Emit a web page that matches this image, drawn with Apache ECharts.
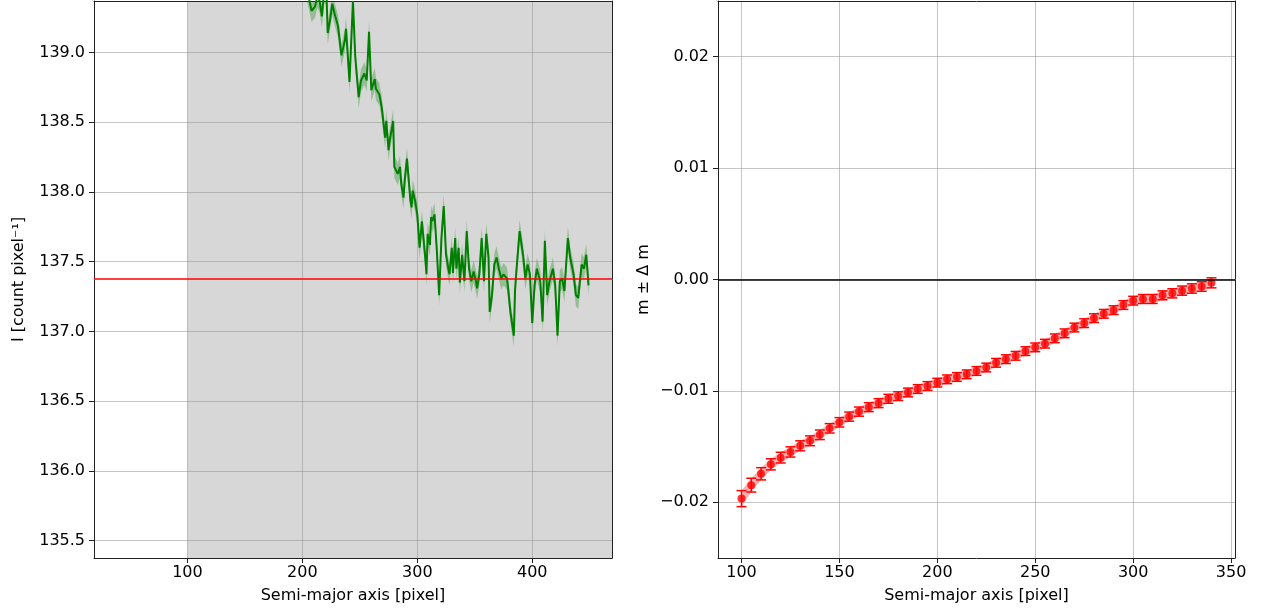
<!DOCTYPE html>
<html>
<head>
<meta charset="utf-8">
<script src="https://cdn.jsdelivr.net/npm/echarts@6/dist/echarts.min.js"></script>
<style>
  html, body { margin: 0; padding: 0; background: #ffffff; }
  #chart { width: 1268px; height: 611px; }
</style>
</head>
<body>
<div id="chart"></div>
<script>
// ---- Left panel: surface-brightness profile ----
const profileX = [196, 202, 205, 208, 211, 213, 215, 217, 219, 221, 222, 224, 226, 228, 231, 234, 237, 238,
  241, 244, 246, 249, 251, 254, 256, 258, 260, 263, 264, 267, 269, 272, 273, 275, 276, 279, 280, 283,
  285, 286, 288, 289, 291, 294, 295, 296, 298, 300, 302, 304, 305, 307, 308, 309, 311, 312, 313, 315,
  317, 319, 321, 323, 325, 327, 328, 330, 331, 333, 334, 336, 337, 339, 341, 343, 345, 347, 349, 351,
  352, 354, 356, 358, 360, 362, 363, 365, 367, 369, 371, 373, 375, 378, 379, 381, 384, 385, 386, 389,
  392, 394, 396, 398, 400, 402, 404, 407, 409, 411, 413, 415, 418, 420, 422, 424, 426, 428, 431, 433,
  436, 438, 440, 443, 445, 447, 449];
const profileI = [139.62, 139.50, 139.42, 139.30, 139.33, 139.40, 139.37, 139.26, 139.44, 139.42, 139.14,
  139.23, 139.35, 139.28, 139.19, 138.98, 139.09, 139.17, 138.79, 139.37, 138.97, 138.68, 138.80,
  138.85, 138.80, 139.15, 138.73, 138.81, 138.74, 138.70, 138.61, 138.39, 138.51, 138.30, 138.37,
  138.51, 138.18, 138.13, 138.18, 138.06, 137.96, 138.08, 138.24, 137.94, 137.89, 138.01, 137.94,
  137.84, 137.60, 137.79, 137.70, 137.52, 137.41, 137.70, 137.62, 137.82, 137.79, 137.84, 137.58,
  137.26, 137.67, 137.90, 137.55, 137.45, 137.41, 137.60, 137.42, 137.67, 137.45, 137.60, 137.35,
  137.55, 137.36, 137.72, 137.45, 137.36, 137.43, 137.36, 137.31, 137.41, 137.67, 137.36, 137.70,
  137.53, 137.14, 137.26, 137.48, 137.53, 137.45, 137.38, 137.41, 137.38, 137.31, 137.14, 136.97,
  137.29, 137.41, 137.72, 137.55, 137.38, 137.48, 137.41, 137.06, 137.33, 137.45, 137.36, 137.07,
  137.65, 137.26, 137.36, 137.45, 137.33, 136.97, 137.36, 137.38, 137.29, 137.67, 137.53, 137.41,
  137.26, 137.24, 137.48, 137.45, 137.55, 137.33];
const profileErr = 0.08;          // half-width of the shaded uncertainty band
const skyLevel = 137.38;          // horizontal reference level
const spanStart = 100;            // start of the shaded fitting region
const leftXRange = [18.7, 469.4];
const leftYRange = [135.375, 139.37];
const leftXTicks = [100, 200, 300, 400];
const leftYTicks = [135.5, 136.0, 136.5, 137.0, 137.5, 138.0, 138.5, 139.0];

// ---- Right panel: slope m ± Δm versus semi-major axis ----
const smaX = [100, 105, 110, 115, 120, 125, 130, 135, 140, 145, 150, 155, 160, 165, 170, 175, 180,
  185, 190, 195, 200, 205, 210, 215, 220, 225, 230, 235, 240, 245, 250, 255, 260, 265, 270, 275,
  280, 285, 290, 295, 300, 305, 310, 315, 320, 325, 330, 335, 340];
const slope = [-0.01967, -0.01846, -0.01744, -0.01659, -0.01599, -0.01548, -0.01493, -0.01448,
  -0.01394, -0.01336, -0.01282, -0.01231, -0.01186, -0.01146, -0.01110, -0.01071, -0.01047,
  -0.01014, -0.00983, -0.00956, -0.00926, -0.00896, -0.00875, -0.00851, -0.00821, -0.00790,
  -0.00748, -0.00715, -0.00685, -0.00643, -0.00609, -0.00576, -0.00528, -0.00483, -0.00431,
  -0.00392, -0.00347, -0.00308, -0.00275, -0.00229, -0.00190, -0.00175, -0.00175, -0.00142,
  -0.00124, -0.00100, -0.00081, -0.00063, -0.00030];
const slopeErr = [0.00072, 0.00062, 0.00055, 0.00050, 0.00048, 0.00046, 0.00045, 0.00044, 0.00043,
  0.00042, 0.00042, 0.00041, 0.00041, 0.00040, 0.00040, 0.00040, 0.00039, 0.00039, 0.00039, 0.00039,
  0.00039, 0.00039, 0.00039, 0.00039, 0.00039, 0.00039, 0.00039, 0.00039, 0.00039, 0.00039, 0.00039,
  0.00039, 0.00039, 0.00039, 0.00039, 0.00039, 0.00039, 0.00039, 0.00039, 0.00039, 0.00039, 0.00040,
  0.00040, 0.00040, 0.00041, 0.00041, 0.00042, 0.00043, 0.00045];
const rightXRange = [88, 352];
const rightYRange = [-0.025, 0.025];
const rightXTicks = [100, 150, 200, 250, 300, 350];
const rightYTicks = [-0.02, -0.01, 0.00, 0.01, 0.02];

// ---- Styling ----
const FONT = 'DejaVu Sans';
const TEXT_COLOR = '#000000';
const GRID_LINE = 'rgba(150,150,150,0.55)';
const SPINE = '#222222';

function valueAxis(gridIndex, range, ticks, splitNumber, name, nameGap, labelMargin, fmt, position) {
  return {
    type: 'value', gridIndex: gridIndex, position: position,
    min: range[0], max: range[1], splitNumber: splitNumber, z: 2,
    name: name, nameLocation: 'middle', nameGap: nameGap,
    nameTextStyle: { fontFamily: FONT, fontSize: 16, color: TEXT_COLOR },
    axisLine: { show: true, onZero: false, lineStyle: { color: SPINE, width: 1 } },
    axisTick: { show: true, inside: false, length: 5, customValues: ticks,
      lineStyle: { color: SPINE, width: 1 } },
    axisLabel: { show: true, margin: labelMargin, customValues: ticks, formatter: fmt,
      fontFamily: FONT, fontSize: 16, color: TEXT_COLOR },
    splitLine: { show: true, lineStyle: { color: GRID_LINE, width: 1 } }
  };
}
function spineAxis(gridIndex, range, position) {
  return {
    type: 'value', gridIndex: gridIndex, position: position,
    min: range[0], max: range[1], z: 2,
    axisLine: { show: true, onZero: false, lineStyle: { color: SPINE, width: 1 } },
    axisTick: { show: false }, axisLabel: { show: false }, splitLine: { show: false }
  };
}
const minusFmt = v => {
  const s = Math.abs(v) < 1e-12 ? '0.00' : v.toFixed(2);
  return s.replace('-', '\u2212');
};

const bandUpper = profileX.map((x, i) => [x, profileI[i] + profileErr]);
const bandLower = profileX.map((x, i) => [x, profileI[i] - profileErr]);
const slopeUpper = smaX.map((x, i) => [x, slope[i] + slopeErr[i]]);
const slopeLower = smaX.map((x, i) => [x, slope[i] - slopeErr[i]]);

function bandRenderer(upper, lower, fill) {
  return function (params, api) {
    const pts = upper.map(p => api.coord(p)).concat(lower.slice().reverse().map(p => api.coord(p)));
    return { type: 'polygon', z2: 1, shape: { points: pts }, style: { fill: fill, stroke: null } };
  };
}

const chart = echarts.init(document.getElementById('chart'), null, { renderer: 'canvas' });
chart.setOption({
  animation: false,
  backgroundColor: '#ffffff',
  grid: [
    { left: 94, right: 656, top: 1, bottom: 53, containLabel: false },
    { left: 718, right: 33, top: 1, bottom: 53, containLabel: false }
  ],
  xAxis: [
    valueAxis(0, leftXRange, leftXTicks, 5, 'Semi-major axis [pixel]', 30, 7, v => String(v), 'bottom'),
    valueAxis(1, rightXRange, rightXTicks, 5, 'Semi-major axis [pixel]', 30, 7, v => String(v), 'bottom'),
    spineAxis(0, leftXRange, 'top'),
    spineAxis(1, rightXRange, 'top')
  ],
  yAxis: [
    valueAxis(0, leftYRange, leftYTicks, 8, 'I [count pixel\u207B\u00B9]', 67, 9, v => v.toFixed(1), 'left'),
    valueAxis(1, rightYRange, rightYTicks, 5, 'm \u00B1 \u0394 m', 66, 9, minusFmt, 'left'),
    spineAxis(0, leftYRange, 'right'),
    spineAxis(1, rightYRange, 'right')
  ],
  series: [
    // shaded fitting region
    {
      type: 'custom', xAxisIndex: 0, yAxisIndex: 0, z: 1, clip: true, silent: true,
      data: [[spanStart, leftXRange[1]]],
      renderItem: function (params, api) {
        const a = api.coord([api.value(0), leftYRange[1]]);
        const b = api.coord([api.value(1), leftYRange[0]]);
        return { type: 'rect', z2: 0, shape: { x: a[0], y: a[1], width: b[0] - a[0], height: b[1] - a[1] },
          style: { fill: '#d7d7d7' } };
      }
    },
    // uncertainty band of the profile
    {
      type: 'custom', xAxisIndex: 0, yAxisIndex: 0, z: 1, clip: true, silent: true,
      data: [[0]],
      renderItem: bandRenderer(bandUpper, bandLower, 'rgba(0,128,0,0.3)')
    },
    // intensity profile
    {
      type: 'line', xAxisIndex: 0, yAxisIndex: 0, z: 3, clip: true, silent: true,
      data: profileX.map((x, i) => [x, profileI[i]]),
      showSymbol: false, symbol: 'none',
      lineStyle: { color: '#008000', width: 2 },
      markLine: {
        silent: true, symbol: 'none', label: { show: false }, animation: false,
        lineStyle: { color: '#ff0000', width: 1.5, type: 'solid' },
        data: [{ yAxis: skyLevel }]
      }
    },
    // slope band
    {
      type: 'custom', xAxisIndex: 1, yAxisIndex: 1, z: 1, clip: true, silent: true,
      data: [[0]],
      renderItem: bandRenderer(slopeUpper, slopeLower, 'rgba(255,0,0,0.3)')
    },
    // error bars with caps
    {
      type: 'custom', xAxisIndex: 1, yAxisIndex: 1, z: 3, silent: true,
      data: smaX.map((x, i) => [x, slope[i] - slopeErr[i], slope[i] + slopeErr[i]]),
      renderItem: function (params, api) {
        const lo = api.coord([api.value(0), api.value(1)]);
        const hi = api.coord([api.value(0), api.value(2)]);
        const cap = 5;
        const st = { stroke: '#ff0000', lineWidth: 1.5 };
        return { type: 'group', children: [
          { type: 'line', shape: { x1: lo[0], y1: lo[1], x2: hi[0], y2: hi[1] }, style: st },
          { type: 'line', shape: { x1: lo[0] - cap, y1: lo[1], x2: lo[0] + cap, y2: lo[1] }, style: st },
          { type: 'line', shape: { x1: hi[0] - cap, y1: hi[1], x2: hi[0] + cap, y2: hi[1] }, style: st }
        ] };
      }
    },
    // slope points
    {
      type: 'scatter', xAxisIndex: 1, yAxisIndex: 1, z: 4, silent: true,
      data: smaX.map((x, i) => [x, slope[i]]),
      symbol: 'circle', symbolSize: 8,
      itemStyle: { color: '#ff0000' },
      markLine: {
        silent: true, symbol: 'none', label: { show: false }, animation: false,
        lineStyle: { color: '#000000', width: 1.5, type: 'solid' },
        data: [{ yAxis: 0 }]
      }
    }
  ]
});
</script>
</body>
</html>
